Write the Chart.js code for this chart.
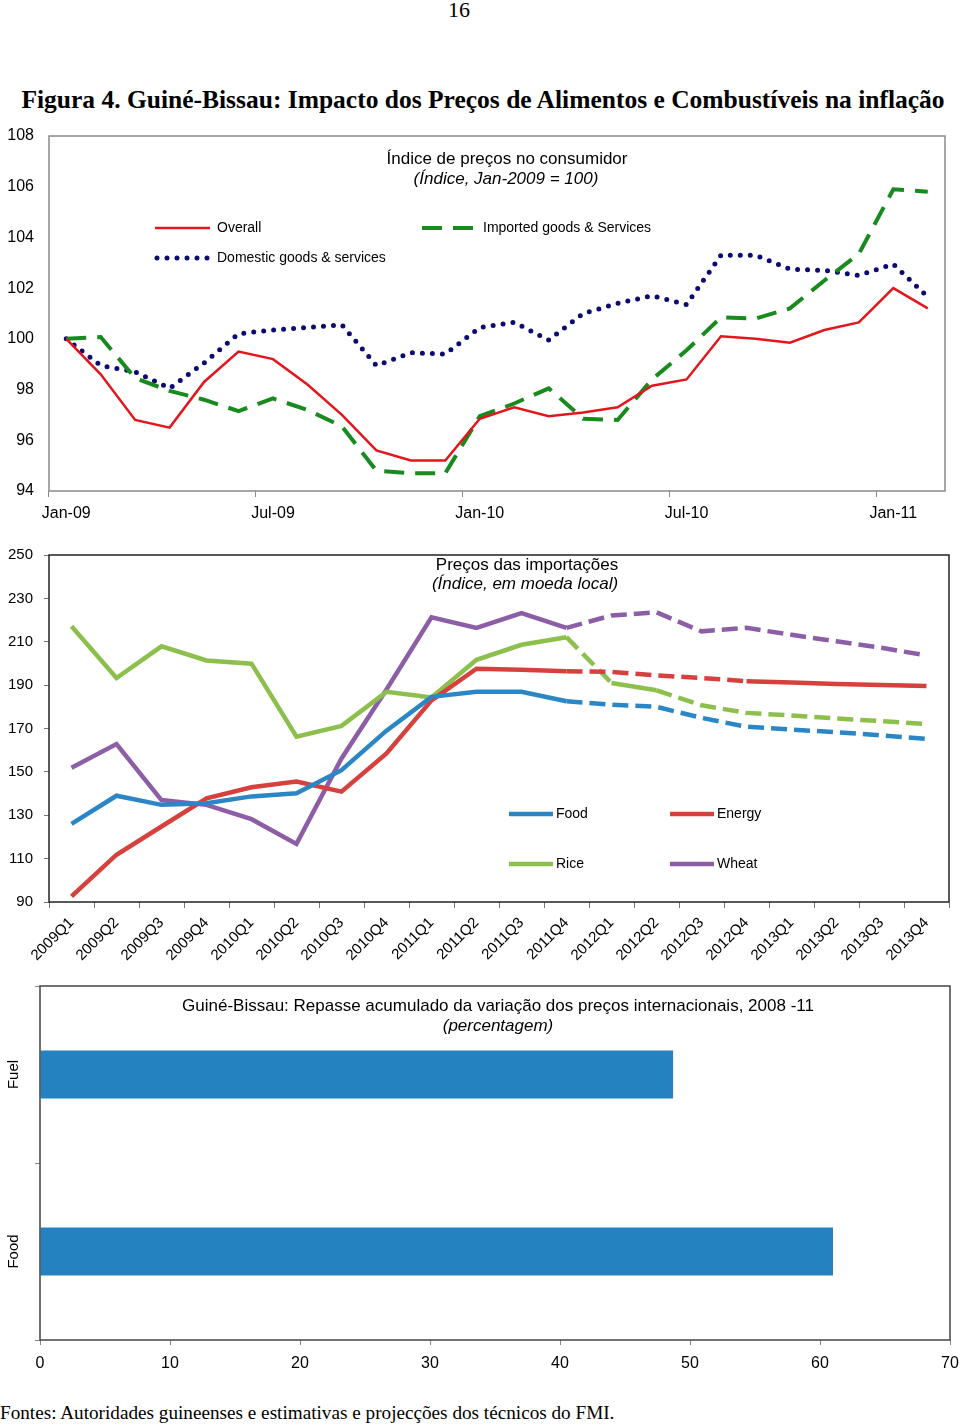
<!DOCTYPE html>
<html>
<head>
<meta charset="utf-8">
<script src="https://cdn.jsdelivr.net/npm/chart.js@4.4.0/dist/chart.umd.min.js"></script>
<style>
  body { margin: 0; background: #fff; width: 960px; height: 1426px; position: relative; overflow: hidden; }
  .pg { position: absolute; top: -3px; left: 0; width: 918px; text-align: center; font: 22px "Liberation Serif", "Times New Roman", serif; }
  h1 { position: absolute; top: 85px; left: 0; width: 966px; margin: 0; text-align: center; font: bold 25.5px "Liberation Serif", "Times New Roman", serif; }
  canvas { position: absolute; left: 0; }
  .src { position: absolute; left: 0; top: 1402px; font: 19.2px "Liberation Serif", "Times New Roman", serif; }
</style>
</head>
<body>
<div class="pg">16</div>
<h1>Figura 4. Guiné-Bissau: Impacto dos Preços de Alimentos e Combustíveis na inflação</h1>
<canvas id="cpiChart" width="960" height="410" style="top:120px"></canvas>
<canvas id="importChart" width="960" height="440" style="top:540px"></canvas>
<canvas id="passChart" width="960" height="405" style="top:980px"></canvas>
<div class="src">Fontes: Autoridades guineenses e estimativas e projecções dos técnicos do FMI.</div>

<script>
// --- consumer price index (monthly, Jan-2009 = 100)
const months = ['Jan-09','Feb-09','Mar-09','Apr-09','May-09','Jun-09','Jul-09','Aug-09','Sep-09','Oct-09','Nov-09','Dec-09',
                'Jan-10','Feb-10','Mar-10','Apr-10','May-10','Jun-10','Jul-10','Aug-10','Sep-10','Oct-10','Nov-10','Dec-10',
                'Jan-11','Feb-11'];
const cpiOverall  = [100.0, 98.6, 96.8, 96.5, 98.3, 99.5, 99.2, 98.2, 97.0, 95.6, 95.2, 95.2,
                     96.85, 97.3, 96.95, 97.1, 97.3, 98.15, 98.4, 100.1, 100.0, 99.85, 100.35, 100.65, 102.0, 101.2];
const cpiImported = [100.0, 100.07, 98.45, 97.95, 97.6, 97.15, 97.65, 97.2, 96.55, 94.8, 94.7, 94.7,
                     96.95, 97.45, 98.05, 96.85, 96.8, 98.4, 99.55, 100.85, 100.8, 101.2, 102.3, 103.35, 105.9, 105.8];
const cpiDomestic = [100.0, 98.95, 98.7, 98.05, 99.05, 100.2, 100.35, 100.45, 100.55, 98.95, 99.45, 99.4,
                     100.45, 100.65, 99.95, 101.0, 101.4, 101.7, 101.35, 103.3, 103.3, 102.75, 102.7, 102.5, 102.95, 101.65];

// --- import prices (quarterly, local currency index)
const quarters = ['2009Q1','2009Q2','2009Q3','2009Q4','2010Q1','2010Q2','2010Q3','2010Q4','2011Q1','2011Q2',
                  '2011Q3','2011Q4','2012Q1','2012Q2','2012Q3','2012Q4','2013Q1','2013Q2','2013Q3','2013Q4'];
const food   = [126, 139, 134.8, 135.5, 138.7, 140.1, 150.8, 169, 184.6, 186.9, 186.9, 182.6, 181, 180, 174.9, 170.8, 169.5, 168.3, 166.8, 165.2];
const energy = [92.6, 111.8, 124.8, 137.8, 142.9, 145.5, 140.9, 158.5, 183, 197.6, 197.1, 196.4, 196.1, 194.5, 193.3, 191.8, 191.2, 190.5, 190.1, 189.6];
const rice   = [217.1, 193.3, 207.9, 201.4, 199.9, 166.2, 171.2, 186.9, 184.3, 201.7, 208.6, 212.1, 191, 187.6, 180.7, 177.2, 176, 174.6, 173.4, 172.1];
const wheat  = [151.9, 162.8, 137, 134.8, 128.2, 116.8, 156.2, 188, 221.3, 216.4, 223.2, 216.4, 222.1, 223.6, 214.8, 216.4, 213.2, 210.2, 207.2, 203.7];

// --- cumulative pass-through 2008-11 (percent)
const passCategories = ['Fuel', 'Food'];
const passValues = [48.7, 61];

const cpiTicks = [94, 108, 2];
const importTicks = [90, 250, 20];
const passTicks = [0, 70, 10];

Chart.defaults.font.family = '"Liberation Sans", Arial, sans-serif';
Chart.defaults.color = '#000';
Chart.defaults.animation = false;

// keep the plot box where the layout padding says, labels may overhang
const noPadX = s => { s.paddingLeft = 0; s.paddingRight = 0; };
const noPadY = s => { s.paddingTop = 0; s.paddingBottom = 0; };

// draws frame, inner titles and the in-plot legend
const overlay = {
    id: 'overlay',
    afterDraw(chart, args, opts) {
        const ctx = chart.ctx;
        const a = chart.chartArea;
        ctx.save();
        if (opts.frame) {
            ctx.strokeStyle = opts.frame;
            ctx.lineWidth = opts.frameWidth || 1;
            ctx.strokeRect(a.left, a.top, a.right - a.left, a.bottom - a.top);
        }
        ctx.fillStyle = '#000';
        ctx.textBaseline = 'middle';
        (opts.titles || []).forEach(t => {
            ctx.textAlign = 'center';
            ctx.font = (t.italic ? 'italic ' : '') + t.size + 'px "Liberation Sans", Arial, sans-serif';
            ctx.fillText(t.text, t.x, t.y);
        });
        (opts.legend || []).forEach(item => {
            const ds = chart.data.datasets[item.index];
            ctx.strokeStyle = ds.borderColor;
            ctx.lineWidth = ds.borderWidth;
            ctx.lineCap = ds.borderCapStyle || 'butt';
            ctx.setLineDash(ds.borderDash || []);
            ctx.beginPath();
            ctx.moveTo(item.x, item.y);
            ctx.lineTo(item.x + item.len, item.y);
            ctx.stroke();
            ctx.setLineDash([]);
            ctx.textAlign = 'left';
            ctx.font = opts.legendFont;
            ctx.fillText(ds.label, item.x + item.len + item.gap, item.y);
        });
        ctx.restore();
    }
};

// top chart: CPI
new Chart(document.getElementById('cpiChart'), {
    type: 'line',
    data: {
        labels: months,
        datasets: [
            { label: 'Overall', data: cpiOverall, borderColor: '#e3161d', borderWidth: 2.5, pointRadius: 0, tension: 0 },
            { label: 'Imported goods & Services', data: cpiImported, borderColor: '#188a1e', borderWidth: 4,
              borderDash: [20, 11], pointRadius: 0, tension: 0 },
            { label: 'Domestic goods & services', data: cpiDomestic, borderColor: '#0b0b72', borderWidth: 5,
              borderDash: [0, 10], borderCapStyle: 'round', pointRadius: 0, tension: 0 }
        ]
    },
    options: {
        responsive: false,
        layout: { padding: { top: 16, right: 15, left: 0, bottom: 0 } },
        plugins: {
            legend: { display: false },
            tooltip: { enabled: false },
            overlay: {
                frame: '#8a8a8a', frameWidth: 1.5,
                titles: [
                    { text: 'Índice de preços no consumidor', x: 507, y: 39, size: 17 },
                    { text: '(Índice, Jan-2009 = 100)', x: 506, y: 59, size: 17, italic: true }
                ],
                legendFont: '14px "Liberation Sans", Arial, sans-serif',
                legend: [
                    { index: 0, x: 155, y: 108, len: 55, gap: 7 },
                    { index: 1, x: 422, y: 108, len: 55, gap: 6 },
                    { index: 2, x: 157, y: 138, len: 53, gap: 7 }
                ]
            }
        },
        scales: {
            x: {
                offset: true,
                border: { display: false },
                grid: {
                    offset: true, drawOnChartArea: false, tickLength: 6,
                    color: ctx => ctx.index % 6 === 0 ? '#8a8a8a' : 'rgba(0,0,0,0)'
                },
                ticks: {
                    autoSkip: false, maxRotation: 0, padding: 7, font: { size: 16 },
                    callback: (v, i) => i % 6 === 0 ? months[i] : ''
                },
                afterFit: s => { s.height = 39; noPadX(s); }
            },
            y: {
                min: cpiTicks[0], max: cpiTicks[1],
                border: { display: false },
                grid: { display: false, drawTicks: false },
                ticks: { stepSize: cpiTicks[2], padding: 15, font: { size: 16 } },
                afterFit: s => { s.width = 49; noPadY(s); }
            }
        }
    },
    plugins: [overlay]
});

// middle chart: import prices, projections dashed
const dash = [16, 7];
const dashedAfter = from => ctx => ctx.p0DataIndex >= from ? dash : undefined;
const dashedIn = list => ctx => list.includes(ctx.p0DataIndex) ? dash : undefined;

new Chart(document.getElementById('importChart'), {
    type: 'line',
    data: {
        labels: quarters,
        datasets: [
            { label: 'Food', data: food, borderColor: '#2b86c5', borderWidth: 4.5, pointRadius: 0, tension: 0,
              segment: { borderDash: dashedAfter(11) } },
            { label: 'Energy', data: energy, borderColor: '#d6403d', borderWidth: 4.5, pointRadius: 0, tension: 0,
              segment: { borderDash: dashedIn([11, 12, 13, 14]) } },
            { label: 'Rice', data: rice, borderColor: '#8dbf4c', borderWidth: 4.5, pointRadius: 0, tension: 0,
              segment: { borderDash: dashedIn([11, 13, 14, 15, 16, 17, 18]) } },
            { label: 'Wheat', data: wheat, borderColor: '#8c5ea6', borderWidth: 4.5, pointRadius: 0, tension: 0,
              segment: { borderDash: dashedAfter(11) } }
        ]
    },
    options: {
        responsive: false,
        layout: { padding: { top: 15, right: 11, left: 0, bottom: 0 } },
        plugins: {
            legend: { display: false },
            tooltip: { enabled: false },
            overlay: {
                frame: '#222', frameWidth: 1.5,
                titles: [
                    { text: 'Preços das importações', x: 527, y: 25, size: 17 },
                    { text: '(Índice, em moeda local)', x: 525, y: 44, size: 17, italic: true }
                ],
                legendFont: '14px "Liberation Sans", Arial, sans-serif',
                legend: [
                    { index: 0, x: 509, y: 274, len: 44, gap: 3 },
                    { index: 1, x: 670, y: 274, len: 44, gap: 3 },
                    { index: 2, x: 509, y: 324, len: 44, gap: 3 },
                    { index: 3, x: 670, y: 324, len: 44, gap: 3 }
                ]
            }
        },
        scales: {
            x: {
                offset: true,
                border: { display: false },
                grid: { offset: true, drawOnChartArea: false, tickLength: 6, color: '#777' },
                ticks: { autoSkip: false, minRotation: 45, maxRotation: 45, padding: 6, font: { size: 15 } },
                afterFit: s => { s.height = 78; noPadX(s); }
            },
            y: {
                min: importTicks[0], max: importTicks[1],
                border: { display: false },
                grid: { drawOnChartArea: false, tickLength: 5, color: '#777' },
                ticks: { stepSize: importTicks[2], padding: 11, font: { size: 15 } },
                afterFit: s => { s.width = 49; noPadY(s); }
            }
        }
    },
    plugins: [overlay]
});

// bottom chart: pass-through bars
new Chart(document.getElementById('passChart'), {
    type: 'bar',
    data: {
        labels: passCategories,
        datasets: [{ label: 'Repasse', data: passValues, backgroundColor: '#2582c1',
                     categoryPercentage: 1, barPercentage: 0.27 }]
    },
    options: {
        indexAxis: 'y',
        responsive: false,
        layout: { padding: { top: 6, right: 10, left: 0, bottom: 0 } },
        plugins: {
            legend: { display: false },
            tooltip: { enabled: false },
            overlay: {
                frame: '#444', frameWidth: 1.5,
                titles: [
                    { text: 'Guiné-Bissau: Repasse acumulado da variação dos preços internacionais, 2008 -11', x: 498, y: 26, size: 17 },
                    { text: '(percentagem)', x: 498, y: 46, size: 17, italic: true }
                ]
            }
        },
        scales: {
            x: {
                min: passTicks[0], max: passTicks[1],
                border: { display: false },
                grid: { drawOnChartArea: false, tickLength: 5, color: '#888' },
                ticks: { stepSize: passTicks[2], padding: 9, maxRotation: 0,
                         font: { size: 16, family: '"Liberation Sans Narrow", "Arial Narrow", "Liberation Sans", sans-serif' } },
                afterFit: s => { s.height = 45; noPadX(s); }
            },
            y: {
                offset: true,
                border: { display: false },
                grid: { offset: true, drawOnChartArea: false, tickLength: 5, color: '#888' },
                ticks: { minRotation: 90, maxRotation: 90, crossAlign: 'center', padding: 4, font: { size: 15 } },
                afterFit: s => { s.width = 40; noPadY(s); }
            }
        }
    },
    plugins: [overlay]
});
</script>
</body>
</html>
